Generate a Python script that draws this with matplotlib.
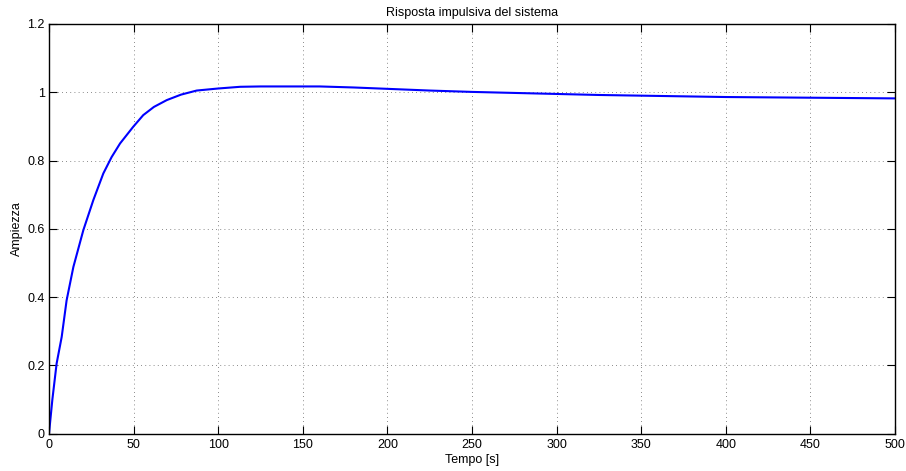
import matplotlib
matplotlib.use("Agg")
import matplotlib.pyplot as plt

plt.rcParams['font.family'] = ['Liberation Sans', 'DejaVu Sans']

# impulse response samples
tempo = [0, 2, 4.5, 7.5, 10.4, 14.4, 20.3, 26.2, 32.1, 37, 42, 49.8, 55.7, 62,
         69.6, 78, 87.3, 100, 113, 125, 140, 160, 180, 200, 225, 250, 275,
         300, 325, 350, 375, 400, 425, 450, 475, 500]
ampiezza = [0, 0.10, 0.205, 0.283, 0.39, 0.488, 0.596, 0.684, 0.762, 0.81, 0.85,
            0.899, 0.933, 0.957, 0.977, 0.993, 1.005, 1.011, 1.016, 1.017,
            1.017, 1.017, 1.014, 1.010, 1.005, 1.001, 0.998, 0.995, 0.992,
            0.990, 0.988, 0.986, 0.985, 0.984, 0.983, 0.982]

xticks = [0, 50, 100, 150, 200, 250, 300, 350, 400, 450, 500]
yticks = [0, 0.2, 0.4, 0.6, 0.8, 1, 1.2]
ytick_labels = ['0', '0.2', '0.4', '0.6', '0.8', '1', '1.2']

fig = plt.figure(figsize=(9.06, 4.71), dpi=100)
ax = fig.add_axes([49 / 906, 1 - 433.5 / 471, 846 / 906, 409.5 / 471])

ax.plot(tempo, ampiezza, color='#0000ff', linewidth=1.5)

ax.set_xlim(0, 500)
ax.set_ylim(0, 1.2)
ax.set_xticks(xticks)
ax.set_yticks(yticks)
ax.set_yticklabels(ytick_labels)
ax.tick_params(direction='in', length=6, labelsize=9, top=True, right=True,
               width=0.8, pad=3)
ax.tick_params(axis='x', pad=4)
for s in ax.spines.values():
    s.set_linewidth(1.0)

ax.grid(True, linestyle=(0, (1, 4)), color='#666666', linewidth=0.6)

ax.set_title('Risposta impulsiva del sistema', fontsize=9, pad=6)
ax.set_xlabel('Tempo [s]', fontsize=9, labelpad=2)
ax.set_ylabel('Ampiezza', fontsize=9, labelpad=3)

fig.savefig('out.png', dpi=100)
